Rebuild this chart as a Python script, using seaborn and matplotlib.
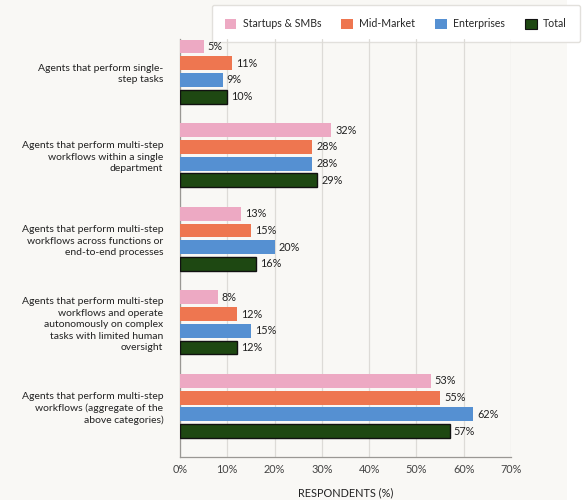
import pandas as pd
import seaborn as sns
import matplotlib.pyplot as plt
from matplotlib.patches import Rectangle

categories = [
    "Agents that perform single-\nstep tasks",
    "Agents that perform multi-step\nworkflows within a single\ndepartment",
    "Agents that perform multi-step\nworkflows across functions or\nend-to-end processes",
    "Agents that perform multi-step\nworkflows and operate\nautonomously on complex\ntasks with limited human\noversight",
    "Agents that perform multi-step\nworkflows (aggregate of the\nabove categories)",
]
segments = ["Startups & SMBs", "Mid-Market", "Enterprises", "Total"]
startups = [5, 32, 13, 8, 53]
midmarket = [11, 28, 15, 12, 55]
enterprises = [9, 28, 20, 15, 62]
total = [10, 29, 16, 12, 57]
xticks = [0, 10, 20, 30, 40, 50, 60, 70]

colors = ["#EDA9C3", "#EE7650", "#5590D2", "#1E4812"]
bg = "#F9F8F5"

rows = []
for seg, vals in zip(segments, [startups, midmarket, enterprises, total]):
    for cat, v in zip(categories, vals):
        rows.append({"Category": cat, "Segment": seg, "Value": v})
df = pd.DataFrame(rows)

sns.set_style("white")
plt.rcParams['font.family'] = ['Lato', 'DejaVu Sans']

fig = plt.figure(figsize=(5.85, 5.0), dpi=100, facecolor=bg)
fig.patches.append(Rectangle((567 / 585, 0), 1, 1, transform=fig.transFigure,
                             facecolor="white", edgecolor="none", zorder=0))
ax = fig.add_axes([180 / 585, 43 / 500, 331 / 585, 418 / 500])
ax.patch.set_visible(False)
ax.set_zorder(3)

sns.barplot(data=df, y="Category", x="Value", hue="Segment", orient="h",
            palette=colors, saturation=1, width=0.8, gap=0.17, ax=ax,
            legend=False, linewidth=0, errorbar=None, zorder=3)

for i, cont in enumerate(ax.containers):
    if i == 3:
        for b in cont:
            b.set_edgecolor("#111111")
            b.set_linewidth(1.0)
    ax.bar_label(cont, fmt="%d%%", padding=3, fontsize=7.8, color="#222222")

ax.set_xlim(0, 70)
ax.set_ylim(4.61, -0.39)
ax.set_xticks(xticks)
ax.set_xticklabels([f"{t}%" for t in xticks], fontsize=7.8, color="#444444")
ax.tick_params(axis="y", labelsize=7.5, length=0, pad=12, labelcolor="#222222")
for lbl in ax.get_yticklabels():
    lbl.set_linespacing(1.35)
ax.tick_params(axis="x", length=0, pad=5)
ax.xaxis.grid(True, color="#DDDBD7", linewidth=0.9, zorder=0)
ax.set_axisbelow(True)
ax.set_ylabel("")
ax.set_xlabel("RESPONDENTS (%)", fontsize=7.8, color="#222222", labelpad=9)
for s in ["top", "right"]:
    ax.spines[s].set_visible(False)
for s in ["left", "bottom"]:
    ax.spines[s].set_color("#9A9894")
    ax.spines[s].set_linewidth(0.9)

handles = [Rectangle((0, 0), 1, 1, facecolor=c,
                     edgecolor="#111111" if i == 3 else "none", linewidth=0.8)
           for i, c in enumerate(colors)]
leg = fig.legend(handles, segments, ncol=4, loc="upper right",
                 bbox_to_anchor=(580 / 585, 1 - 5 / 500), borderaxespad=0,
                 fontsize=7.6, frameon=True, fancybox=True, handlelength=1.1,
                 handleheight=1.1, columnspacing=1.9, handletextpad=0.6,
                 borderpad=1.25)
leg.get_frame().set_facecolor("white")
leg.get_frame().set_edgecolor("#E2E0DC")
leg.get_frame().set_alpha(1)
leg.set_zorder(1)

fig.savefig("out.png", dpi=100, facecolor=bg)
